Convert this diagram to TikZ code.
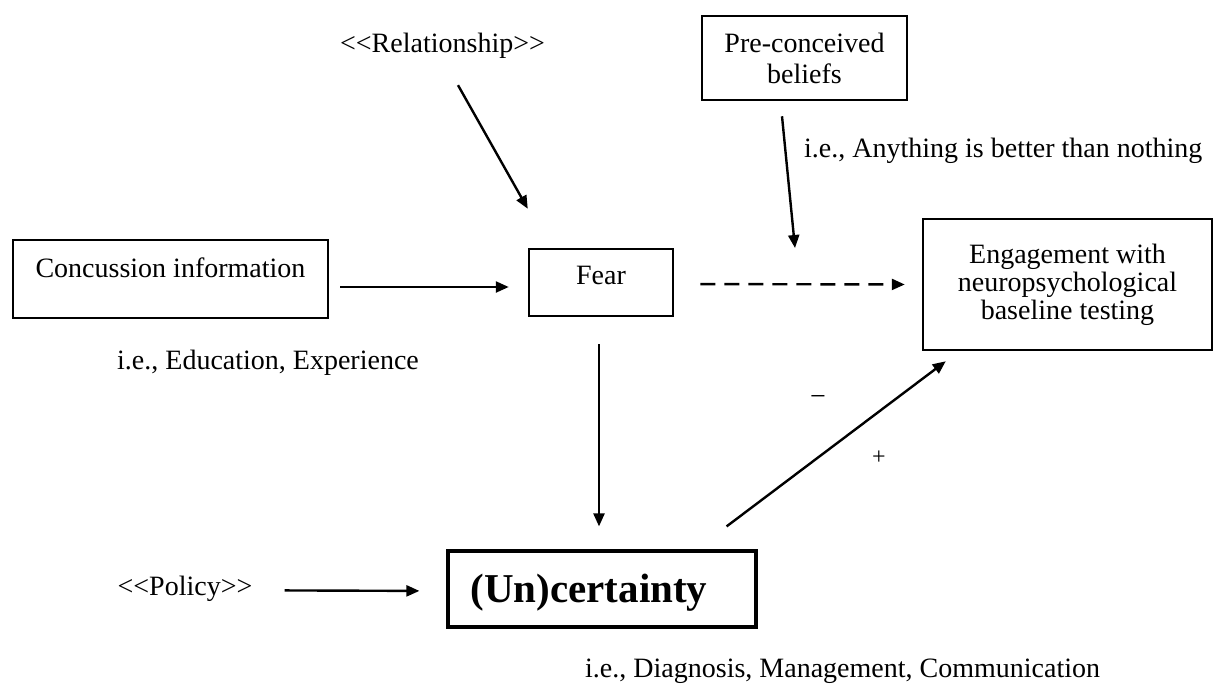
\documentclass[tikz,border=0pt]{standalone}
\usepackage{fontspec}
\setmainfont{Liberation Serif}
\usetikzlibrary{arrows.meta}
\begin{document}
\begin{tikzpicture}[x=1pt,y=-1pt,
  every node/.style={inner sep=0pt,font=\fontsize{28}{28}\selectfont},
  box/.style={draw,line width=2.5pt,align=center},
  arr/.style={line width=2.4pt,-{Triangle[length=13pt,width=11pt]}},
  sign/.style={font=\fontsize{28}{28}\selectfont},
]
\useasboundingbox (0,0) rectangle (1222,683);

% boxes
\node[box,minimum width=315pt,text height=37pt,text depth=41pt] (conc) at (170.5,279) {Concussion information};
\node[box,minimum width=144pt,text height=35pt,text depth=32pt] (fear) at (601,282.5) {Fear};
\node[box,line width=3.2pt,minimum width=308pt,text height=51pt,text depth=25pt,
      font=\fontsize{41}{41}\selectfont\bfseries] (unc) at (602,589) {(Un)certainty\hspace{26pt}};
\node[box,minimum width=289pt,minimum height=131pt] (eng) at (1067.5,284.5)
  {Engagement with\\neuropsychological\\baseline testing\hspace*{0pt}};
\node[box,minimum width=205pt,minimum height=84pt,font=\fontsize{28}{31}\selectfont] (beliefs) at (804.5,58)
  {Pre-conceived\\beliefs};

% labels
\node[anchor=base] (rel) at (442.5,52) {<{}<Relationship>{}>};
\node[anchor=base west] (any) at (804,157) {i.e., Anything is better than nothing};
\node[anchor=base] (edu) at (268,369) {i.e., Education, Experience};
\node[anchor=base] (pol) at (185,595) {<{}<Policy>{}>};
\node[anchor=base west] (diag) at (585,677) {i.e., Diagnosis, Management, Communication};
\node[sign] (minus) at (818,400) {−};
\node[sign,font=\fontsize{24}{24}\selectfont] (plus) at (879,458) {+};

% connectors
\coordinate (mod) at (795,248);
\draw[arr,shorten <=11pt,shorten >=19pt] ([yshift=-8pt]conc.east) -- ([yshift=-4.5pt]fear.west);
\draw[arr,dash pattern=on 15pt off 9pt,shorten <=26pt,shorten >=17pt] ([yshift=-1.5pt]fear.east) -- (eng.west);
\draw[arr,shorten <=27pt,shorten >=23pt] ([xshift=-2pt]fear.south) -- ([xshift=-2pt]fear.south |- unc.north);
\draw[arr] ([shift={(-31pt,23pt)}]unc.north east) -- ([shift={(24pt,-10pt)}]eng.south west);
\draw[arr] ([shift={(15.5pt,-27pt)}]rel.south) -- ([yshift=39pt]fear.north west);
\draw[arr] ([shift={(-22.5pt,-15pt)}]beliefs.south) -- (mod);
\draw[arr,shorten <=32pt,shorten >=27pt] ([yshift=-2pt]pol.east) -- ([yshift=-2pt]unc.west);
\end{tikzpicture}
\end{document}
